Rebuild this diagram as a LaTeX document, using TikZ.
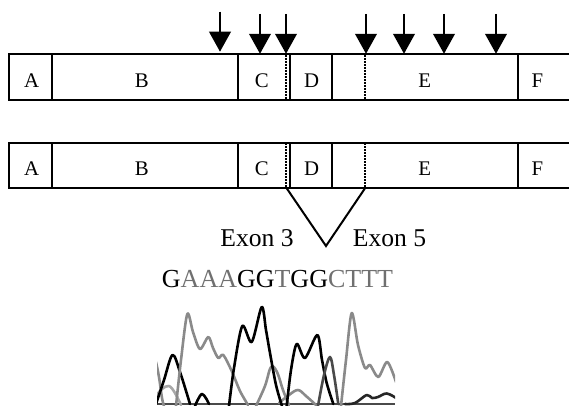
\documentclass[tikz,border=0pt]{standalone}
\usepackage{fontspec}
\setmainfont{Liberation Serif}
\usetikzlibrary{arrows.meta}
\definecolor{basegray}{HTML}{707070}
\definecolor{tracegray}{HTML}{8A8A8A}
\definecolor{tracelight}{HTML}{A8A8A8}
\definecolor{tracedark}{HTML}{4A4A4A}
\begin{document}
\begin{tikzpicture}[x=0.5pt,y=-0.5pt,
  seg/.style={draw,line width=1pt,inner sep=0pt,minimum height=22.85pt},
  seglabel/.style={anchor=base,font=\fontsize{10.4}{12}\selectfont,inner sep=0pt},
  splitline/.style={line width=0.8pt,dash pattern=on 0.8pt off 0.7pt},
  site/.style={line width=1pt,-{Triangle[length=10pt,width=10.8pt]}},
  exon/.style={anchor=base,font=\fontsize{12.8}{15}\selectfont,inner sep=0pt},
  trace/.style={line width=1.3pt,line join=round,line cap=round}]
\useasboundingbox (0,0) rectangle (569,406);

% --- upper transcript ---
\node[seg,minimum width=21.5pt]  (a1) at (30.8,77.15) {};
\node[seg,minimum width=93pt]    (b1) at (145.3,77.15) {};
\node[seg,minimum width=25.85pt] (c1) at (264.15,77.15) {};
\node[seg,minimum width=21.15pt] (d1) at (311.15,77.15) {};
\node[seg,minimum width=93pt]    (e1) at (425.3,77.15) {};
\node[seg,minimum width=35.85pt] (f1) at (554.15,77.15) {};
\node[seglabel] (la1) at (31.7,87.3) {A};
\node[seglabel] (lb1) at (141.7,87.3) {B};
\node[seglabel] (lc1) at (261.7,87.3) {C};
\node[seglabel] (ld1) at (311.7,87.3) {D};
\node[seglabel] (le1) at (424.7,87.3) {E};
\node[seglabel] (lf1) at (537.3,87.3) {F};
\draw[splitline] (286,55) -- (286,99.5);
\draw[splitline] (364.7,55) -- (364.7,99.5);

% --- mutation sites ---
\foreach \i/\px/\ty/\hy in {1/220/11.7/51.7,2/260/14/53.8,3/286/14/53.8,4/366/14/53.8,
                            5/404/14/53.8,6/444/14/53.8,7/496/14/53.8}{
  \coordinate (t\i) at (\px,\ty);
  \coordinate (h\i) at (\px,\hy);
  \draw[site] (t\i) -- (h\i);
}

% --- lower transcript ---
\node[seg,minimum width=21.5pt]  (a2) at (30.8,165.5) {};
\node[seg,minimum width=93pt]    (b2) at (145.3,165.5) {};
\node[seg,minimum width=25.85pt] (c2) at (264.15,165.5) {};
\node[seg,minimum width=21.15pt] (d2) at (311.15,165.5) {};
\node[seg,minimum width=93pt]    (e2) at (425.3,165.5) {};
\node[seg,minimum width=35.85pt] (f2) at (554.15,165.5) {};
\node[seglabel] (la2) at (31.7,176) {A};
\node[seglabel] (lb2) at (141.7,176) {B};
\node[seglabel] (lc2) at (261.7,176) {C};
\node[seglabel] (ld2) at (311.7,176) {D};
\node[seglabel] (le2) at (424.7,176) {E};
\node[seglabel] (lf2) at (537.3,176) {F};
\draw[splitline] (286,143.5) -- (286,188);
\draw[splitline] (364.7,143.5) -- (364.7,188);

% --- skipped region ---
\coordinate (jl) at (286.7,188.3);
\coordinate (jr) at (365,188.3);
\coordinate (jv) at (326,246);
\draw[line width=1pt,line join=miter] (jl) -- (jv) -- (jr);
\node[exon] (x3) at (257,246.7) {Exon 3};
\node[exon] (x5) at (389.5,246.7) {Exon 5};

% --- sequence read ---
\node[anchor=base,inner sep=0pt,font=\fontsize{13}{15}\selectfont] (seq) at (277.5,288)
  {G\textcolor{basegray}{AAA}GG\textcolor{basegray}{T}GG\textcolor{basegray}{CTTT}};

% --- chromatogram ---
\begin{scope}
\clip (157,303) rectangle (395,406);
\draw[tracedark,line width=1pt] (157,404) -- (395,404);
% small bumps near the baseline
\draw[trace,tracelight] plot[smooth,tension=0.6] coordinates
  {(156,396) (162,389) (169,386) (175,393) (181,405)};
\draw[trace,tracegray] plot[smooth,tension=0.6] coordinates
  {(156,362) (159,377) (162,398) (164,406)};
\draw[trace,black] plot[smooth,tension=0.6] coordinates
  {(195,406) (202,394) (209,404)};
\draw[trace,tracegray] plot[smooth,tension=0.6] coordinates
  {(279,403) (289,395) (298,390) (306,396) (316,405)};
\draw[trace,tracegray] plot[smooth,tension=0.6] coordinates
  {(256,406) (265,386) (271,367) (277,372) (283,390) (289,405)};
% main peaks
\draw[trace,black] plot[smooth,tension=0.55] coordinates
  {(156,404) (164,380) (172.5,355) (180,372) (190,404)};
\draw[trace,tracegray] plot[smooth,tension=0.5] coordinates
  {(176,406) (181,360) (187.3,314) (193,332) (200,349) (208.3,337) (213,348)
   (218.3,358) (223.3,355) (231.7,371) (240,391) (248,405)};
\draw[trace,black] plot[smooth,tension=0.5] coordinates
  {(229,406) (234,368) (242.3,326) (251.7,342) (261.7,307) (266,330)
   (270,353) (276,385) (282,406)};
\draw[trace,black] plot[smooth,tension=0.5] coordinates
  {(286.7,406) (291,370) (296.7,344) (305,358) (317.3,335) (322,360)
   (326.7,383) (333.3,404)};
\draw[trace,tracedark] plot[smooth,tension=0.55] coordinates
  {(318,406) (324,375) (330,357) (334,375) (338.3,404)};
\draw[trace,tracegray] plot[smooth,tension=0.5] coordinates
  {(341,406) (346,360) (351.7,313) (358,345) (365,368) (370,365)
   (378.3,377) (387.3,362) (396,382)};
\draw[trace,black!85] plot[smooth,tension=0.6] coordinates
  {(345,404) (355,403) (366.7,395) (372,398) (378,397) (386.7,393.5) (396,398)};
\end{scope}
\end{tikzpicture}
\end{document}
